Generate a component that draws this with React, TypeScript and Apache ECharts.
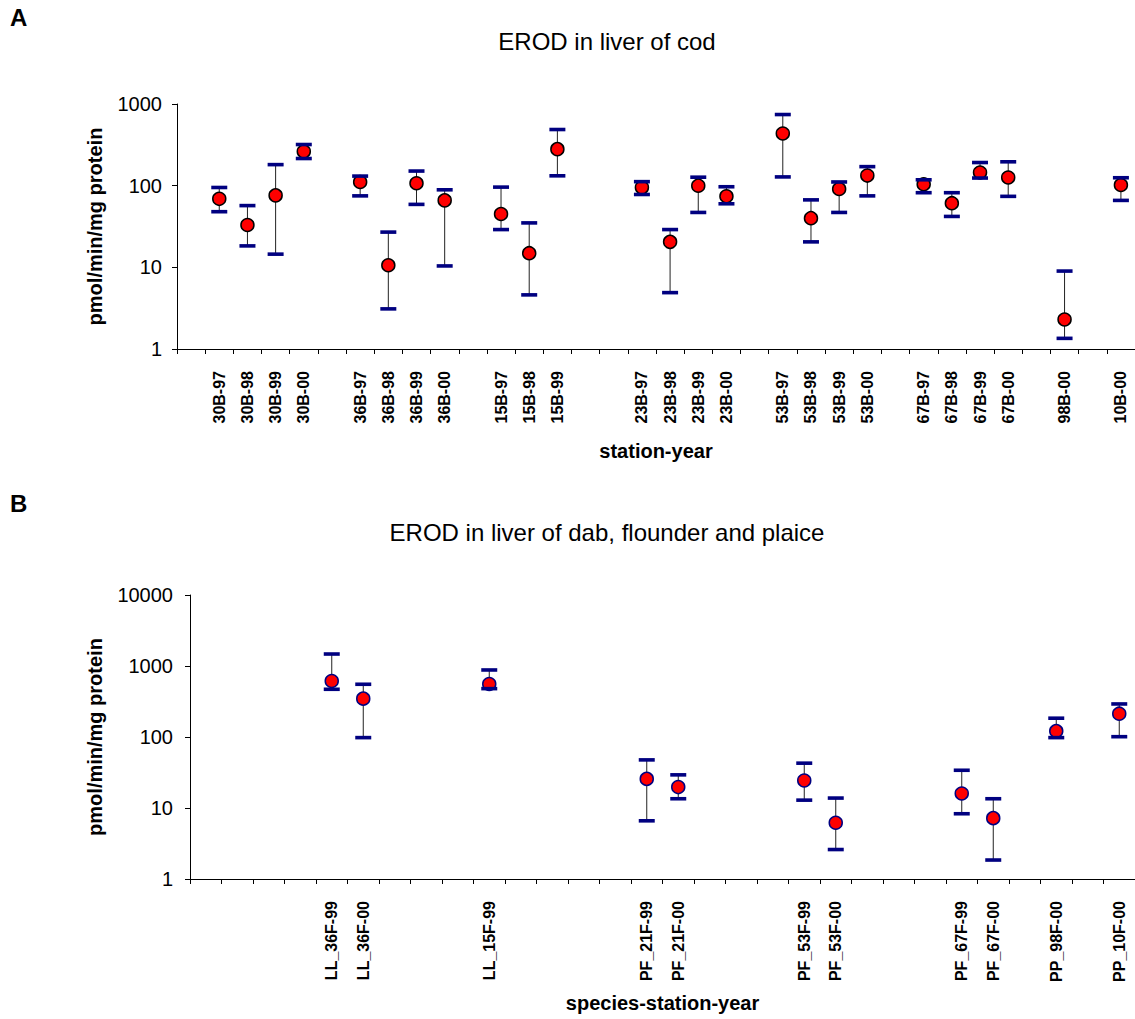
import React, { useEffect, useRef } from "react";
import * as echarts from "echarts";

const FONT = "'Liberation Sans', Arial, Helvetica, sans-serif";

// ---- Panel A: cod ----
const codSlots = [
  "", "30B-97", "30B-98", "30B-99", "30B-00", "",
  "36B-97", "36B-98", "36B-99", "36B-00", "",
  "15B-97", "15B-98", "15B-99", "", "",
  "23B-97", "23B-98", "23B-99", "23B-00", "",
  "53B-97", "53B-98", "53B-99", "53B-00", "",
  "67B-97", "67B-98", "67B-99", "67B-00", "",
  "98B-00", "", "10B-00",
];
const codMean = [
  null, 69, 33, 76, 262, null,
  111, 10.6, 107, 66, null,
  45, 14.9, 280, null, null,
  95, 20.5, 100, 74, null,
  435, 40, 91, 133, null,
  104, 61, 145, 126, null,
  2.3, null, 102,
];
const codLow = [
  null, 48, 18.3, 14.5, 215, null,
  75, 3.1, 59, 10.4, null,
  29, 4.6, 132, null, null,
  78, 4.9, 47, 60, null,
  128, 20.5, 47, 75, null,
  82, 42, 124, 74, null,
  1.35, null, 66,
];
const codHigh = [
  null, 95, 57, 181, 319, null,
  131, 27, 151, 89, null,
  96, 35, 487, null, null,
  112, 29, 127, 97, null,
  743, 67, 111, 171, null,
  118, 82, 192, 196, null,
  9.0, null, 125,
];
const codTicks = [1, 10, 100, 1000];

// ---- Panel B: dab, flounder, plaice ----
const flatSlots = [
  "", "", "", "", "LL_36F-99", "LL_36F-00", "", "", "",
  "LL_15F-99", "", "", "", "",
  "PF_21F-99", "PF_21F-00", "", "", "",
  "PF_53F-99", "PF_53F-00", "", "", "",
  "PF_67F-99", "PF_67F-00", "", "PP_98F-00", "", "PP_10F-00",
];
const flatMean = [
  null, null, null, null, 615, 347, null, null, null,
  558, null, null, null, null,
  25.7, 19.7, null, null, null,
  24.4, 6.2, null, null, null,
  16, 7.2, null, 121, null, 213,
];
const flatLow = [
  null, null, null, null, 470, 98, null, null, null,
  480, null, null, null, null,
  6.6, 13.5, null, null, null,
  12.9, 2.6, null, null, null,
  8.3, 1.85, null, 98, null, 101,
];
const flatHigh = [
  null, null, null, null, 1475, 553, null, null, null,
  879, null, null, null, null,
  47.6, 29.3, null, null, null,
  42.8, 13.8, null, null, null,
  34, 13.5, null, 184, null, 292,
];
const flatTicks = [1, 10, 100, 1000, 10000];

const NAVY = "#000080";
const RED = "#FF0000";

function toPoints(mean: (number | null)[]) {
  const out: number[][] = [];
  mean.forEach((v, i) => {
    if (v != null) out.push([i, v]);
  });
  return out;
}
function toBars(low: (number | null)[], high: (number | null)[]) {
  const out: number[][] = [];
  low.forEach((v, i) => {
    const h = high[i];
    if (v != null && h != null) out.push([i, v, h]);
  });
  return out;
}

function stemRender(_params: any, api: any) {
  const x = api.value(0);
  const lo = api.coord([x, api.value(1)]);
  const hi = api.coord([x, api.value(2)]);
  return {
    type: "line",
    shape: { x1: lo[0], y1: lo[1], x2: hi[0], y2: hi[1] },
    style: { stroke: "#222", lineWidth: 1 },
  };
}
function capRender(_params: any, api: any) {
  const x = api.value(0);
  const lo = api.coord([x, api.value(1)]);
  const hi = api.coord([x, api.value(2)]);
  const w = 16;
  const h = 3.6;
  return {
    type: "group",
    children: [
      { type: "rect", shape: { x: lo[0] - w / 2, y: lo[1] - h / 2, width: w, height: h }, style: { fill: NAVY } },
      { type: "rect", shape: { x: hi[0] - w / 2, y: hi[1] - h / 2, width: w, height: h }, style: { fill: NAVY } },
    ],
  };
}

function xAxisFor(idx: number, slots: string[], name: string, nameGap: number) {
  return {
    type: "category",
    gridIndex: idx,
    data: slots,
    boundaryGap: true,
    axisLine: { show: true, lineStyle: { color: "#000", width: 1 } },
    axisTick: { show: true, interval: 0, length: 5, alignWithLabel: false, lineStyle: { color: "#000" } },
    axisLabel: {
      interval: 0,
      rotate: 90,
      fontSize: 16,
      fontWeight: "bold",
      fontFamily: FONT,
      color: "#000",
      margin: 22,
    },
    splitLine: { show: false },
    name,
    nameLocation: "middle",
    nameGap,
    nameTextStyle: { fontSize: 20, fontWeight: "bold", fontFamily: FONT, color: "#000" },
  };
}

function yAxisFor(idx: number, ticks: number[], nameGap: number, margin: number) {
  return {
    type: "log",
    logBase: 10,
    gridIndex: idx,
    min: ticks[0],
    max: ticks[ticks.length - 1],
    axisLine: { show: true, lineStyle: { color: "#000", width: 1 } },
    axisTick: { show: true, length: 5, lineStyle: { color: "#000" } },
    minorTick: { show: false },
    axisLabel: {
      fontSize: 20,
      fontFamily: FONT,
      color: "#000",
      margin,
      formatter: (v: number) => String(Math.round(v)),
    },
    splitLine: { show: false },
    name: "pmol/min/mg protein",
    nameLocation: "middle",
    nameGap,
    nameTextStyle: { fontSize: 20, fontWeight: "bold", fontFamily: FONT, color: "#000" },
  };
}

function seriesFor(idx: number, mean: (number | null)[], low: (number | null)[], high: (number | null)[], border: string) {
  const bars = toBars(low, high);
  return [
    {
      type: "custom",
      xAxisIndex: idx,
      yAxisIndex: idx,
      renderItem: stemRender,
      encode: { x: 0, y: [1, 2] },
      data: bars,
      z: 2,
      clip: false,
    },
    {
      type: "scatter",
      xAxisIndex: idx,
      yAxisIndex: idx,
      data: toPoints(mean),
      symbol: "circle",
      symbolSize: 13,
      itemStyle: { color: RED, borderColor: border, borderWidth: 1.5, opacity: 1 },
      z: 3,
    },
    {
      type: "custom",
      xAxisIndex: idx,
      yAxisIndex: idx,
      renderItem: capRender,
      encode: { x: 0, y: [1, 2] },
      data: bars,
      z: 4,
      clip: false,
    },
  ];
}

export default function App() {
  const ref = useRef<HTMLDivElement>(null);
  useEffect(() => {
    if (!ref.current) return;
    const chart = echarts.init(ref.current, null, { renderer: "svg" });
    const option: any = {
      animation: false,
      backgroundColor: "#fff",
      textStyle: { fontFamily: FONT },
      grid: [
        { left: 177, top: 104, right: -6, height: 245 },
        { left: 190, top: 595, right: -5, height: 284 },
      ],
      xAxis: [
        xAxisFor(0, codSlots, "station-year", 92),
        xAxisFor(1, flatSlots, "species-station-year", 114),
      ],
      yAxis: [yAxisFor(0, codTicks, 72, 15), yAxisFor(1, flatTicks, 85, 17)],
      series: [
        ...seriesFor(0, codMean, codLow, codHigh, "#000"),
        ...seriesFor(1, flatMean, flatLow, flatHigh, NAVY),
      ],
      graphic: [
        {
          type: "text",
          x: 10,
          y: 17,
          style: { text: "A", fontSize: 24, fontWeight: "bold", fontFamily: FONT, fill: "#000", align: "left", verticalAlign: "middle" },
        },
        {
          type: "text",
          x: 607,
          y: 41,
          style: { text: "EROD in liver of cod", fontSize: 24, fontFamily: FONT, fill: "#000", align: "center", verticalAlign: "middle" },
        },
        {
          type: "text",
          x: 10,
          y: 503,
          style: { text: "B", fontSize: 24, fontWeight: "bold", fontFamily: FONT, fill: "#000", align: "left", verticalAlign: "middle" },
        },
        {
          type: "text",
          x: 607,
          y: 532,
          style: { text: "EROD in liver of dab, flounder and plaice", fontSize: 24, fontFamily: FONT, fill: "#000", align: "center", verticalAlign: "middle" },
        },
      ],
    };
    chart.setOption(option);
    return () => chart.dispose();
  }, []);
  return (
    <div
      ref={ref}
      style={{ position: "absolute", left: 0, top: 0, width: 1135, height: 1019, background: "#fff" }}
    />
  );
}
